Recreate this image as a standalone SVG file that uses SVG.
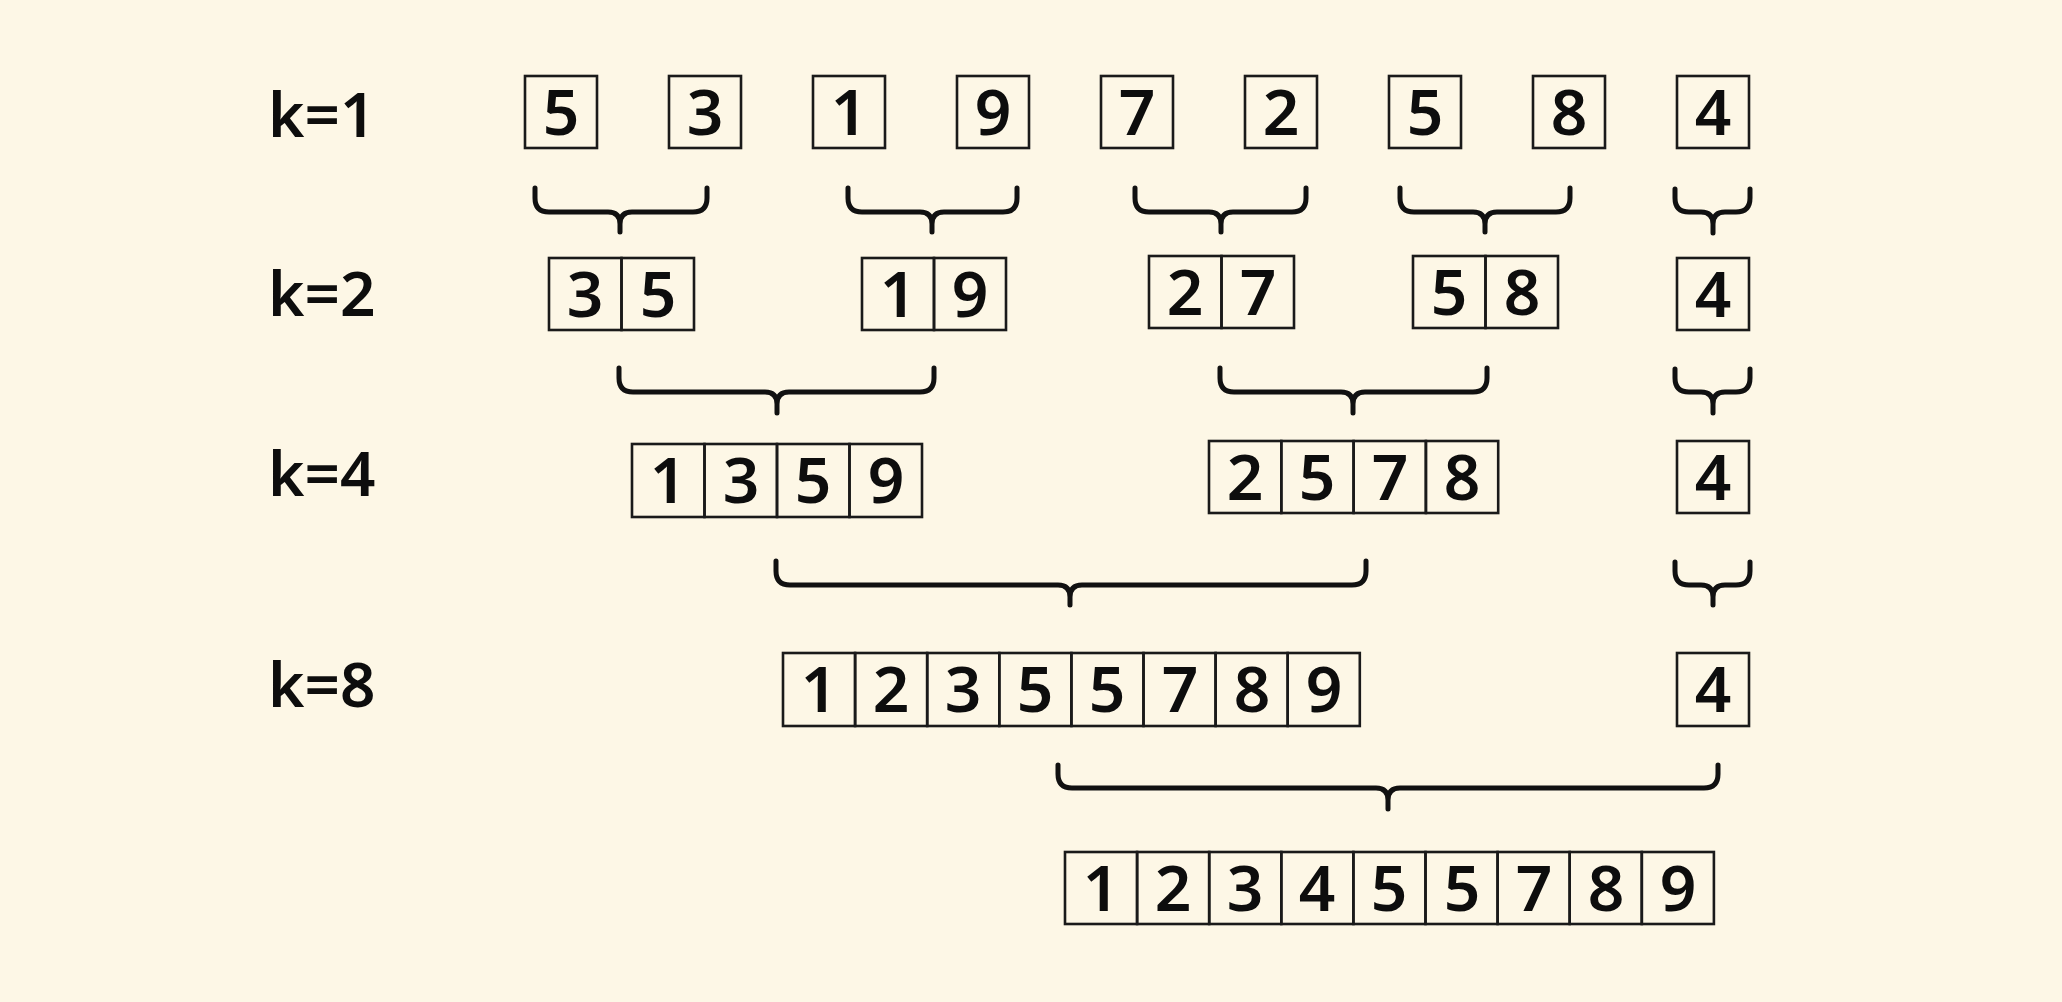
<svg xmlns="http://www.w3.org/2000/svg" width="2062" height="1002" viewBox="0 0 2062 1002">
<style>
.c{fill:none;stroke:#1a1a1a;stroke-width:2.6}
.t{font-family:"Noto Sans","DejaVu Sans",sans-serif;font-weight:600;font-size:64px;fill:#0d0d0d;text-anchor:middle}
.l{font-family:"Noto Sans","DejaVu Sans",sans-serif;font-weight:600;font-size:62px;fill:#0d0d0d}
.b{fill:none;stroke:#111;stroke-width:5;stroke-linecap:round;stroke-linejoin:round}
</style>
<rect width="2062" height="1002" fill="#FDF7E6"/>
<g id="labels">
<text class="l" x="268" y="137">k=1</text>
<text class="l" x="268" y="316">k=2</text>
<text class="l" x="268" y="496">k=4</text>
<text class="l" x="268" y="707">k=8</text>
</g>
<g id="row1">
<g id="n1a"><rect class="c" x="525" y="76" width="72" height="72"/><text class="t" x="561" y="135">5</text></g>
<g id="n1b"><rect class="c" x="669" y="76" width="72" height="72"/><text class="t" x="705" y="135">3</text></g>
<g id="n1c"><rect class="c" x="813" y="76" width="72" height="72"/><text class="t" x="849" y="135">1</text></g>
<g id="n1d"><rect class="c" x="957" y="76" width="72" height="72"/><text class="t" x="993" y="135">9</text></g>
<g id="n1e"><rect class="c" x="1101" y="76" width="72" height="72"/><text class="t" x="1137" y="135">7</text></g>
<g id="n1f"><rect class="c" x="1245" y="76" width="72" height="72"/><text class="t" x="1281" y="135">2</text></g>
<g id="n1g"><rect class="c" x="1389" y="76" width="72" height="72"/><text class="t" x="1425" y="135">5</text></g>
<g id="n1h"><rect class="c" x="1533" y="76" width="72" height="72"/><text class="t" x="1569" y="135">8</text></g>
<g id="n1i"><rect class="c" x="1677" y="76" width="72" height="72"/><text class="t" x="1713" y="135">4</text></g>
</g>
<g id="row2">
<g id="n2a"><rect class="c" x="549" y="258" width="72.5" height="72"/><rect class="c" x="621.5" y="258" width="72.5" height="72"/><text class="t" x="585" y="317">3</text><text class="t" x="658" y="317">5</text></g>
<g id="n2b"><rect class="c" x="862" y="258" width="72" height="72"/><rect class="c" x="934" y="258" width="72" height="72"/><text class="t" x="898" y="317">1</text><text class="t" x="970" y="317">9</text></g>
<g id="n2c"><rect class="c" x="1149" y="256" width="72.5" height="72"/><rect class="c" x="1221.5" y="256" width="72.5" height="72"/><text class="t" x="1185" y="315">2</text><text class="t" x="1258" y="315">7</text></g>
<g id="n2d"><rect class="c" x="1413" y="256" width="72.5" height="72"/><rect class="c" x="1485.5" y="256" width="72.5" height="72"/><text class="t" x="1449" y="315">5</text><text class="t" x="1522" y="315">8</text></g>
<g id="n2e"><rect class="c" x="1677" y="258" width="72" height="72"/><text class="t" x="1713" y="317">4</text></g>
</g>
<g id="row3">
<g id="n3a">
<rect class="c" x="632" y="444" width="72.5" height="73"/><rect class="c" x="704.5" y="444" width="72.5" height="73"/><rect class="c" x="777" y="444" width="72.5" height="73"/><rect class="c" x="849.5" y="444" width="72.5" height="73"/>
<text class="t" x="668" y="503">1</text><text class="t" x="741" y="503">3</text><text class="t" x="813" y="503">5</text><text class="t" x="886" y="503">9</text></g>
<g id="n3b">
<rect class="c" x="1209" y="441" width="72.3" height="72"/><rect class="c" x="1281.3" y="441" width="72.3" height="72"/><rect class="c" x="1353.6" y="441" width="72.3" height="72"/><rect class="c" x="1425.9" y="441" width="72.3" height="72"/>
<text class="t" x="1245" y="500">2</text><text class="t" x="1317" y="500">5</text><text class="t" x="1390" y="500">7</text><text class="t" x="1462" y="500">8</text></g>
<g id="n3c"><rect class="c" x="1677" y="441" width="72" height="72"/><text class="t" x="1713" y="500">4</text></g>
</g>
<g id="row4">
<g id="n4a">
<rect class="c" x="783" y="653" width="72.1" height="73"/><rect class="c" x="855.1" y="653" width="72.1" height="73"/><rect class="c" x="927.2" y="653" width="72.1" height="73"/><rect class="c" x="999.3" y="653" width="72.1" height="73"/><rect class="c" x="1071.4" y="653" width="72.1" height="73"/><rect class="c" x="1143.5" y="653" width="72.1" height="73"/><rect class="c" x="1215.6" y="653" width="72.1" height="73"/><rect class="c" x="1287.7" y="653" width="72.1" height="73"/>
<text class="t" x="819" y="712">1</text><text class="t" x="891" y="712">2</text><text class="t" x="963" y="712">3</text><text class="t" x="1035" y="712">5</text><text class="t" x="1107" y="712">5</text><text class="t" x="1180" y="712">7</text><text class="t" x="1252" y="712">8</text><text class="t" x="1324" y="712">9</text></g>
<g id="n4b"><rect class="c" x="1677" y="653" width="72" height="73"/><text class="t" x="1713" y="712">4</text></g>
</g>
<g id="row5">
<g id="n5">
<rect class="c" x="1065" y="852" width="72.1" height="72"/><rect class="c" x="1137.1" y="852" width="72.1" height="72"/><rect class="c" x="1209.2" y="852" width="72.1" height="72"/><rect class="c" x="1281.3" y="852" width="72.1" height="72"/><rect class="c" x="1353.4" y="852" width="72.1" height="72"/><rect class="c" x="1425.5" y="852" width="72.1" height="72"/><rect class="c" x="1497.6" y="852" width="72.1" height="72"/><rect class="c" x="1569.7" y="852" width="72.1" height="72"/><rect class="c" x="1641.8" y="852" width="72.1" height="72"/>
<text class="t" x="1101" y="911">1</text><text class="t" x="1173" y="911">2</text><text class="t" x="1245" y="911">3</text><text class="t" x="1317" y="911">4</text><text class="t" x="1389" y="911">5</text><text class="t" x="1462" y="911">5</text><text class="t" x="1534" y="911">7</text><text class="t" x="1606" y="911">8</text><text class="t" x="1678" y="911">9</text></g>
</g>
<g id="connectors">
<path class="b" d="M535 188 V198 Q535 212 549 212 H608 Q620 212 620 224 V232 M620 224 Q620 212 632 212 H693 Q707 212 707 198 V188"/>
<path class="b" d="M848 188 V198 Q848 212 862 212 H920 Q932 212 932 224 V232 M932 224 Q932 212 944 212 H1003 Q1017 212 1017 198 V188"/>
<path class="b" d="M1135 188 V198 Q1135 212 1149 212 H1209 Q1221 212 1221 224 V232 M1221 224 Q1221 212 1233 212 H1292 Q1306 212 1306 198 V188"/>
<path class="b" d="M1400 188 V198 Q1400 212 1414 212 H1473 Q1485 212 1485 224 V232 M1485 224 Q1485 212 1497 212 H1556 Q1570 212 1570 198 V188"/>
<path class="b" d="M1675 189 V198 Q1675 212 1689 212 H1701 Q1713 212 1713 224 V233 M1713 224 Q1713 212 1725 212 H1736 Q1750 212 1750 198 V189"/>
<path class="b" d="M619 368 V378 Q619 392 633 392 H765 Q777 392 777 404 V413 M777 404 Q777 392 789 392 H920 Q934 392 934 378 V368"/>
<path class="b" d="M1220 368 V378 Q1220 392 1234 392 H1341 Q1353 392 1353 404 V413 M1353 404 Q1353 392 1365 392 H1473 Q1487 392 1487 378 V368"/>
<path class="b" d="M1675 369 V378 Q1675 392 1689 392 H1701 Q1713 392 1713 404 V413 M1713 404 Q1713 392 1725 392 H1736 Q1750 392 1750 378 V369"/>
<path class="b" d="M776 561 V571 Q776 585 790 585 H1058 Q1070 585 1070 597 V605 M1070 597 Q1070 585 1082 585 H1352 Q1366 585 1366 571 V561"/>
<path class="b" d="M1675 562 V571 Q1675 585 1689 585 H1701 Q1713 585 1713 597 V605 M1713 597 Q1713 585 1725 585 H1736 Q1750 585 1750 571 V562"/>
<path class="b" d="M1058 765 V774 Q1058 788 1072 788 H1376 Q1388 788 1388 800 V809 M1388 800 Q1388 788 1400 788 H1704 Q1718 788 1718 774 V765"/>
</g>
</svg>
